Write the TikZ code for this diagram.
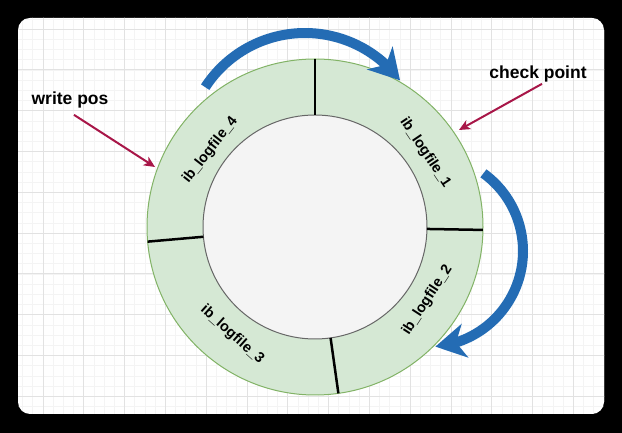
\documentclass[tikz,border=0pt]{standalone}
\usepackage{fontspec}
\setmainfont{Liberation Sans}
\usetikzlibrary{arrows.meta, bending, calc, math}
\definecolor{rgfill}{HTML}{D5E8D4}
\definecolor{rgline}{HTML}{82B366}
\definecolor{pblue}{RGB}{36,108,180}
\definecolor{pred}{RGB}{168,22,72}
\definecolor{gridmin}{HTML}{F4F4F4}
\definecolor{gridmaj}{HTML}{E2E2E2}

\begin{document}
\begin{tikzpicture}[x=1pt, y=1pt,
  logtext/.style={font=\fontsize{14.5}{16}\selectfont\bfseries, inner sep=0pt},
  notetext/.style={font=\fontsize{17.5}{20}\selectfont\bfseries, inner sep=0pt},
  bluearrow/.style={draw=pblue, line width=10, -{Stealth[length=30pt, width=34pt, inset=9pt]}},
  redarrow/.style={draw=pred, line width=2, -{Stealth[length=11pt, width=10pt, inset=3pt]}},
  divider/.style={line width=2.5, black}]
\tikzmath{
\Ro = 168;
\Ri = 112;
}
\useasboundingbox (0,0) rectangle (622,433);
\fill[black] (0,0) rectangle (622,433);
\fill[white, rounded corners=12] (18,19) rectangle (604,415);

% grid paper
\begin{scope}
\clip[rounded corners=12] (18,19) rectangle (604,415);
\begin{scope}[shift={(2.2,36.6)}]
\draw[gridmin, line width=0.8, step=10.2] (-20,-50) grid (640,420);
\draw[gridmaj, line width=1, step=40.8] (-20,-50) grid (640,420);
\end{scope}
\end{scope}

% ring
\coordinate (c) at (315,206);
\filldraw[fill=rgfill, draw=rgline, line width=1] (c) circle (\Ro);
\filldraw[fill=gray!9, draw=gray!80!black, line width=1] (c) circle (\Ri);

\foreach \a in {90, -1, 185, 278}
  \draw[divider] ([shift={(\a:\Ri)}]c) -- ([shift={(\a:\Ro)}]c);

\node[logtext, rotate=-56] (log1) at ([shift={(34:133)}]c) {ib\_logfile\_1};
\node[logtext, rotate=57] (log2) at ([shift={(-33:134)}]c) {ib\_logfile\_2};
\node[logtext, rotate=-42] (log3) at ([shift={(232.5:136)}]c) {ib\_logfile\_3};
\node[logtext, rotate=52] (log4) at ([shift={(143.7:130)}]c) {ib\_logfile\_4};

% turning arrows
\coordinate (ta) at (305,281);
\coordinate (ra) at (427,182);
\draw[bluearrow] ([shift={(147:119)}]ta) arc[start angle=147, end angle=37, radius=119];
\draw[bluearrow] ([shift={(54:96)}]ra) arc[start angle=54, end angle=-85, radius=96];

% pointers
\node[notetext] (wpos) at (70,333.5) {write pos};
\node[notetext] (ckpt) at (538,359.5) {check point};
\coordinate (wtip) at (155,266);
\coordinate (ctip) at (459,303);
\draw[redarrow] ([shift={(4,-7)}]wpos.south) -- (wtip);
\draw[redarrow] ([shift={(4,-2)}]ckpt.south) -- (ctip);

\end{tikzpicture}
\end{document}
